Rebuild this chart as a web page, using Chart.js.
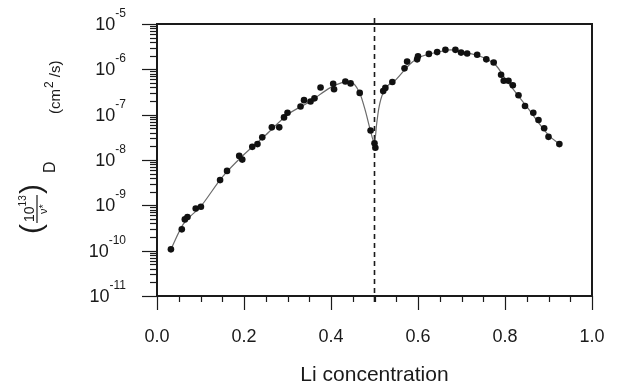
<!DOCTYPE html>
<html><head><meta charset="utf-8">
<script src="https://cdn.jsdelivr.net/npm/chart.js@4.4.0/dist/chart.umd.min.js"></script>
<style>html,body{margin:0;padding:0;background:#fff;}canvas{display:block;}</style>
</head><body>
<canvas id="c" width="622" height="391"></canvas>
<script>
// Measured points: Li concentration vs diffusion coefficient (cm^2/s)
const pointX = [0.032,0.057,0.064,0.070,0.089,0.101,0.145,0.161,0.189,0.196,0.219,0.231,0.242,0.264,0.281,0.292,0.300,0.330,0.338,0.353,0.362,0.376,0.405,0.407,0.433,0.445,0.466,0.491,0.500,0.502,0.520,0.525,0.541,0.569,0.575,0.598,0.600,0.625,0.644,0.663,0.686,0.699,0.713,0.736,0.757,0.774,0.791,0.797,0.808,0.818,0.831,0.846,0.865,0.877,0.890,0.900,0.925];
const pointD = [1.07e-10,2.95e-10,4.9e-10,5.5e-10,8.5e-10,9.3e-10,3.6e-9,5.75e-9,1.23e-8,1.02e-8,1.95e-8,2.24e-8,3.16e-8,5.25e-8,5.25e-8,8.7e-8,1.1e-7,1.51e-7,2.09e-7,1.95e-7,2.29e-7,3.98e-7,4.79e-7,3.63e-7,5.37e-7,4.9e-7,3.02e-7,4.47e-8,2.34e-8,1.86e-8,3.31e-7,3.89e-7,5.25e-7,1.05e-6,1.48e-6,1.66e-6,1.95e-6,2.19e-6,2.4e-6,2.69e-6,2.69e-6,2.34e-6,2.24e-6,2.09e-6,1.66e-6,1.41e-6,7.6e-7,5.6e-7,5.6e-7,4.47e-7,2.69e-7,1.55e-7,1.1e-7,7.6e-8,5.0e-8,3.24e-8,2.24e-8];
// Smooth guide curve
const curveX = [0.032,0.06,0.10,0.15,0.20,0.25,0.30,0.35,0.40,0.44,0.466,0.48,0.49,0.50,0.505,0.51,0.52,0.55,0.58,0.60,0.65,0.675,0.70,0.75,0.78,0.80,0.85,0.90,0.925];
const curveD = [1.07e-10,3.8e-10,9.3e-10,4.2e-9,1.32e-8,3.55e-8,1.0e-7,1.9e-7,4.0e-7,5.4e-7,3.02e-7,1.12e-7,4.7e-8,2.4e-8,6.3e-8,1.4e-7,3.1e-7,6.0e-7,1.26e-6,1.78e-6,2.45e-6,2.7e-6,2.45e-6,1.82e-6,1.2e-6,6.3e-7,1.5e-7,3.55e-8,2.24e-8];
const xTickLabels = ['0.0','0.2','0.4','0.6','0.8','1.0'];
const yDecades = [-11,-10,-9,-8,-7,-6,-5];
const dividerX = 0.5;

const FONT = '"Liberation Sans", Arial, Helvetica, sans-serif';
const INK = '#1a1a1a';

const decor = {
  id: 'decor',
  beforeDatasetsDraw(chart) {
    const {ctx, chartArea: a, scales: {x, y}} = chart;
    const px = x.getPixelForValue(dividerX);
    ctx.save();
    ctx.strokeStyle = INK; ctx.lineWidth = 1.6; ctx.setLineDash([5, 4]);
    ctx.beginPath(); ctx.moveTo(px, a.top - 6); ctx.lineTo(px, a.bottom + 8); ctx.stroke();
    ctx.restore();
  },
  afterDraw(chart) {
    const {ctx, chartArea: a, scales: {x, y}} = chart;
    ctx.save();
    ctx.strokeStyle = INK; ctx.lineWidth = 2;
    ctx.strokeRect(a.left, a.top, a.right - a.left, a.bottom - a.top);
    ctx.lineWidth = 1.2;
    for (let i = 0; i < yDecades.length; i++) {
      const n = yDecades[i];
      const kmax = (i === yDecades.length - 1) ? 1 : 9;
      for (let k = 1; k <= kmax; k++) {
        const py = Math.round(y.getPixelForValue(k * Math.pow(10, n))) + 0.5;
        const len = k === 1 ? 15 : 7;
        ctx.beginPath(); ctx.moveTo(a.left - len, py); ctx.lineTo(a.left, py); ctx.stroke();
      }
    }
    for (let i = 0; i <= 20; i++) {
      const v = i * 0.05;
      const px = Math.round(x.getPixelForValue(v)) + 0.5;
      const len = (i % 4 === 0) ? 14 : 6;
      ctx.beginPath(); ctx.moveTo(px, a.bottom); ctx.lineTo(px, a.bottom + len); ctx.stroke();
    }
    ctx.fillStyle = INK;
    ctx.textBaseline = 'alphabetic';
    for (const n of yDecades) {
      const py = y.getPixelForValue(Math.pow(10, n));
      const exp = '-' + Math.abs(n);
      ctx.font = '12px ' + FONT;
      ctx.textAlign = 'right';
      const ew = ctx.measureText(exp).width;
      ctx.fillText(exp, 126, py - 7);
      ctx.font = '18px ' + FONT;
      ctx.fillText('10', 126 - ew, py + 6);
    }
    ctx.translate(0, 391);
    ctx.rotate(-Math.PI / 2);
    ctx.textAlign = 'left';
    ctx.font = '30px ' + FONT;
    ctx.fillText('(', 157, 41);
    ctx.font = '14px ' + FONT;
    ctx.fillText('10', 169, 34);
    const w10 = ctx.measureText('10').width;
    ctx.font = '10px ' + FONT;
    ctx.fillText('13', 169 + w10, 26);
    ctx.lineWidth = 1.2;
    ctx.beginPath(); ctx.moveTo(168, 37); ctx.lineTo(196, 37); ctx.stroke();
    ctx.font = '11px ' + FONT;
    ctx.textAlign = 'center';
    ctx.fillText('ν*', 182, 47);
    ctx.textAlign = 'left';
    ctx.font = '30px ' + FONT;
    ctx.fillText(')', 197, 41);
    ctx.font = '16px ' + FONT;
    ctx.fillText('D', 218, 55);
    ctx.font = '15px ' + FONT;
    ctx.fillText('(cm', 277, 60);
    let u = 277 + ctx.measureText('(cm').width + 1;
    ctx.font = '12px ' + FONT;
    ctx.fillText('2', u, 53);
    u += ctx.measureText('2').width;
    ctx.font = '15px ' + FONT;
    ctx.fillText(' /s)', u, 60);
    ctx.restore();
  }
};

new Chart(document.getElementById('c'), {
  type: 'line',
  data: {
    datasets: [
      {
        data: pointX.map((v, i) => ({x: v, y: pointD[i]})),
        showLine: false,
        pointRadius: 3.3,
        pointBackgroundColor: '#111',
        pointBorderWidth: 0,
        pointHoverRadius: 3.3
      },
      {
        data: curveX.map((v, i) => ({x: v, y: curveD[i]})),
        borderColor: '#6b6b6b',
        borderWidth: 1.2,
        pointRadius: 0,
        cubicInterpolationMode: 'monotone',
        fill: false
      }
    ]
  },
  options: {
    responsive: false,
    animation: false,
    events: [],
    layout: {padding: {left: 0, right: 30, top: 24, bottom: 0}},
    plugins: {legend: {display: false}, tooltip: {enabled: false}},
    scales: {
      x: {
        type: 'linear', min: 0, max: 1,
        grid: {display: true, drawOnChartArea: false, drawTicks: true, tickLength: 30, color: 'rgba(0,0,0,0)', tickColor: 'rgba(0,0,0,0)'},
        border: {display: false},
        ticks: {
          stepSize: 0.2,
          autoSkip: false,
          maxRotation: 0,
          padding: 0,
          color: INK,
          font: {family: FONT, size: 18},
          callback: (v) => xTickLabels[Math.round(v * 5)]
        },
        title: {display: true, text: 'Li concentration', color: INK, font: {family: FONT, size: 21}, padding: {top: 0, bottom: 3}},
        afterFit: (s) => { s.height = 95; }
      },
      y: {
        type: 'logarithmic', min: 1e-11, max: 1e-5,
        grid: {display: false, drawTicks: false},
        border: {display: false},
        ticks: {display: false},
        afterFit: (s) => { s.width = 157; }
      }
    }
  },
  plugins: [decor]
});
</script>
</body></html>
